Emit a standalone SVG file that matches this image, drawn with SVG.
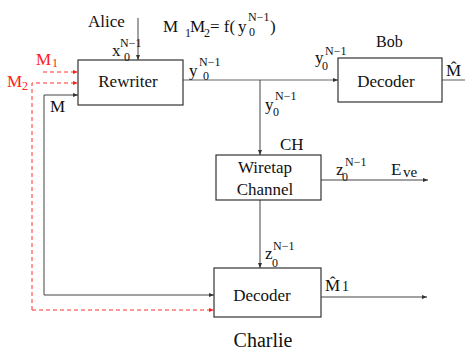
<svg xmlns="http://www.w3.org/2000/svg" width="465" height="353" viewBox="0 0 465 353" font-family="'Liberation Serif', 'Times New Roman', serif">
<style>
text{font-family:'Liberation Serif','Times New Roman',serif;fill:#111}
.t{font-size:17px}
.s{font-size:12px}
.red{fill:#ff2020}
.box{fill:#fff;stroke:#333;stroke-width:1.2}
.ln{fill:none;stroke:#444;stroke-width:1}
.gl{fill:none;stroke:#999;stroke-width:1.6}
.rd{fill:none;stroke:#ff3030;stroke-width:1;stroke-dasharray:4 3}
</style>
<defs>
<marker id="ah" markerWidth="6" markerHeight="6" refX="5" refY="3" orient="auto" markerUnits="userSpaceOnUse"><path d="M0,1 L5,3 L0,5 z" fill="#333"/></marker>
<marker id="ahr" markerWidth="6" markerHeight="6" refX="5" refY="3" orient="auto" markerUnits="userSpaceOnUse"><path d="M0,1 L5,3 L0,5 z" fill="#ff2020"/></marker>
</defs>
<g id="connectors">
<line class="ln" x1="138" y1="18" x2="138" y2="60" marker-end="url(#ah)"/>
<line class="rd" x1="43" y1="72" x2="78" y2="72" marker-end="url(#ahr)"/>
<polyline class="rd" points="32,310 32,83 78,83" marker-end="url(#ahr)"/>
<polyline class="ln" points="44,295 44,95 78,95" marker-end="url(#ah)"/>
<line class="gl" x1="183" y1="80" x2="338" y2="80" marker-end="url(#ah)"/>
<line class="gl" x1="442" y1="80" x2="465" y2="80"/>
<line class="ln" x1="260" y1="80" x2="260" y2="155" marker-end="url(#ah)"/>
<line class="ln" x1="321" y1="180" x2="428" y2="180" marker-end="url(#ah)"/>
<line class="ln" x1="260" y1="200" x2="260" y2="268" marker-end="url(#ah)"/>
<line class="ln" x1="44" y1="295" x2="214" y2="295" marker-end="url(#ah)"/>
<line class="rd" x1="32" y1="310" x2="214" y2="310" marker-end="url(#ahr)"/>
<line class="ln" x1="321" y1="297" x2="427" y2="297" marker-end="url(#ah)"/>
</g>
<g id="rewriter">
<rect class="box" x="78" y="60" width="105" height="45"/>
<text class="t" x="128" y="87" text-anchor="middle">Rewriter</text>
</g>
<g id="alice">
<text class="t" x="88" y="27">Alice</text>
<text class="t" x="112" y="56">x</text>
<text class="s" x="120" y="47">N−1</text>
<text class="s" x="124" y="61">0</text>
</g>
<g id="equation">
<text class="t" x="163" y="32">M</text>
<text class="s" x="185" y="37">1</text>
<text class="t" x="190" y="32">M</text>
<text class="s" x="204" y="37">2</text>
<text class="t" x="210" y="32">= f(</text>
<text class="t" x="238" y="32">y</text>
<text class="s" x="249" y="36">0</text>
<text class="s" x="248" y="21">N−1</text>
<text class="t" x="270" y="32">)</text>
</g>
<g id="inputs">
<text class="t red" x="36" y="65">M</text>
<text class="s red" x="52" y="67">1</text>
<text class="t red" x="7" y="87">M</text>
<text class="s red" x="22" y="90">2</text>
<text class="t" x="50" y="112">M</text>
</g>
<g id="y-labels">
<text class="t" x="189" y="76">y</text>
<text class="s" x="203" y="80">0</text>
<text class="s" x="199" y="66">N−1</text>
<text class="t" x="315" y="63">y</text>
<text class="s" x="322" y="70">0</text>
<text class="s" x="325" y="55">N−1</text>
<text class="t" x="265" y="110">y</text>
<text class="s" x="273" y="116">0</text>
<text class="s" x="275" y="100">N−1</text>
</g>
<g id="bob">
<text class="t" x="376" y="47" style="font-size:16px">Bob</text>
<rect class="box" x="338" y="58" width="104" height="44"/>
<text class="t" x="386" y="87" text-anchor="middle">Decoder</text>
<text class="t" x="446" y="76">M̂</text>
</g>
<g id="wiretap">
<text class="t" x="280" y="150">CH</text>
<rect class="box" x="216" y="155" width="105" height="45"/>
<text class="t" x="265" y="173" text-anchor="middle">Wiretap</text>
<text class="t" x="265" y="195" text-anchor="middle">Channel</text>
<text class="t" x="336" y="175">z</text>
<text class="s" x="342" y="181">0</text>
<text class="s" x="345" y="166">N−1</text>
<text class="t" x="391" y="175">E</text>
<text class="t" x="403" y="177" style="font-size:15px">ve</text>
</g>
<g id="charlie">
<text class="t" x="265" y="259">z</text>
<text class="s" x="272" y="267">0</text>
<text class="s" x="273" y="250">N−1</text>
<rect class="box" x="214" y="268" width="107" height="49"/>
<text class="t" x="262" y="301" text-anchor="middle">Decoder</text>
<text class="t" x="325" y="291">M̂</text>
<text class="s" x="342" y="291" style="font-size:14px">1</text>
<text x="263" y="347" text-anchor="middle" style="font-size:20px">Charlie</text>
</g>
</svg>
